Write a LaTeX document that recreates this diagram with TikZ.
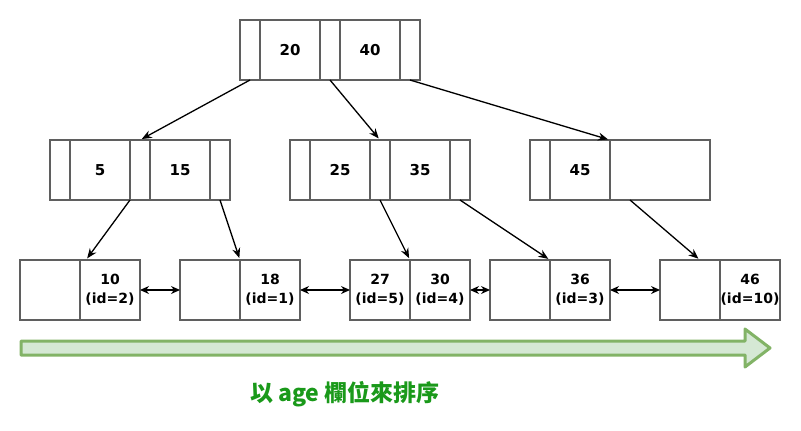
\documentclass[tikz,border=0pt]{standalone}
\usepackage{fontspec}
\setmainfont{DejaVu Sans}
\newfontfamily\cjkfont{Noto Sans CJK TC}
\usepackage{xcolor}
\usetikzlibrary{arrows.meta, positioning}

\definecolor{cellgray}{HTML}{5F5F5F}
\definecolor{arrowgreen}{HTML}{82B366}
\definecolor{arrowfill}{HTML}{D5E8D4}
\definecolor{labelgreen}{HTML}{1A991A}

\begin{document}
\begin{tikzpicture}[x=1pt, y=-1pt,
    cell/.style={draw=cellgray, line width=1.5pt, inner sep=0pt, outer sep=0pt,
                 minimum height=60pt, align=center,
                 font=\bfseries\fontsize{15}{19}\selectfont},
    keycell/.style={cell, minimum width=60pt},
    ptrcell/.style={cell, minimum width=20pt},
    leafcell/.style={keycell, font=\bfseries\fontsize{14}{19}\selectfont},
    link/.style={-{Stealth[length=10pt, width=8pt]}, line width=1.3pt, shorten >=2pt},
    sibling/.style={{Stealth[length=9pt, width=8pt]}-{Stealth[length=9pt, width=8pt]}, line width=1.3pt}]
  \useasboundingbox (0,0) rectangle (801,431);

  % root
  \node[ptrcell] (rp0) at (250,50) {};
  \node[keycell, right=0pt of rp0] (rk20) {20};
  \node[ptrcell, right=0pt of rk20] (rp1) {};
  \node[keycell, right=0pt of rp1] (rk40) {40};
  \node[ptrcell, right=0pt of rk40] (rp2) {};

  % middle level
  \node[ptrcell] (ap0) at (60,170) {};
  \node[keycell, right=0pt of ap0] (ak5) {5};
  \node[ptrcell, right=0pt of ak5] (ap1) {};
  \node[keycell, right=0pt of ap1] (ak15) {15};
  \node[ptrcell, right=0pt of ak15] (ap2) {};

  \node[ptrcell] (bp0) at (300,170) {};
  \node[keycell, right=0pt of bp0] (bk25) {25};
  \node[ptrcell, right=0pt of bk25] (bp1) {};
  \node[keycell, right=0pt of bp1] (bk35) {35};
  \node[ptrcell, right=0pt of bk35] (bp2) {};

  \node[ptrcell] (cp0) at (540,170) {};
  \node[keycell, right=0pt of cp0] (ck45) {45};
  \node[cell, minimum width=100pt, right=0pt of ck45] (cp1) {};

  % leaves
  \node[leafcell] (l1a) at (50,290) {};
  \node[leafcell, right=0pt of l1a] (l1b) {10\\(id=2)};
  \node[leafcell] (l2a) at (210,290) {};
  \node[leafcell, right=0pt of l2a] (l2b) {18\\(id=1)};
  \node[leafcell] (l3a) at (380,290) {27\\(id=5)};
  \node[leafcell, right=0pt of l3a] (l3b) {30\\(id=4)};
  \node[leafcell] (l4a) at (520,290) {};
  \node[leafcell, right=0pt of l4a] (l4b) {36\\(id=3)};
  \node[leafcell] (l5a) at (690,290) {};
  \node[leafcell, right=0pt of l5a] (l5b) {46\\(id=10)};

  % tree links
  \draw[link] (rp0.south) -- (ap1.north);
  \draw[link] (rp1.south) -- (bp1.north);
  \draw[link] (rp2.south) -- (cp1.north west);
  \draw[link] (ap1.south west) -- ([xshift=6pt]l1b.north west);
  \draw[link] (ap2.south) -- (l2b.north west);
  \draw[link] (bp1.south) -- (l3b.north west);
  \draw[link] (bp2.south) -- (l4b.north west);
  \draw[link] ([xshift=20pt]cp1.south west) -- ([xshift=-20pt]l5b.north west);

  % leaf chain
  \foreach \a/\b in {l1b/l2a, l2b/l3a, l3b/l4a, l4b/l5a}
    \draw[sibling] (\a.east) -- (\b.west);

  % sort direction
  \draw[draw=arrowgreen, fill=arrowfill, line width=3pt, line join=round]
    (21,341) -- (745,341) -- (745,329) -- (770,348) -- (745,367) -- (745,355) -- (21,355) -- cycle;
  \node[font=\cjkfont\bfseries\fontsize{23}{23}\selectfont, text=labelgreen] (caption) at (345,394) {以 age 欄位來排序};
\end{tikzpicture}
\end{document}
